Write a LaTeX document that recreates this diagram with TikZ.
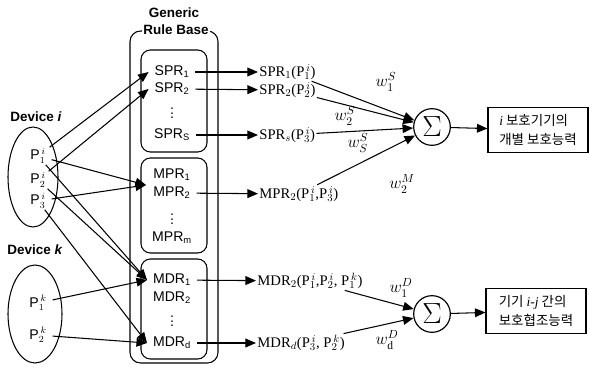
\documentclass[tikz,border=0pt]{standalone}
\usepackage{fontspec}
\setmainfont{Liberation Serif}
\setsansfont{Liberation Sans}
\newfontfamily\krfont{Noto Sans CJK KR}
\usepackage{tikz}
\usetikzlibrary{arrows.meta,positioning,shapes.geometric}

\begin{document}
\begin{tikzpicture}[x=0.03cm, y=-0.03cm,
	head/.style={font=\sffamily\bfseries\fontsize{11.5}{13}\selectfont, inner sep=1pt},
	prm/.style={font=\sffamily\fontsize{12}{14}\selectfont, inner xsep=5pt, inner ysep=1pt},
	res/.style={font=\fontsize{12.5}{15}\selectfont, anchor=west, inner sep=1pt},
	wgt/.style={font=\fontsize{14}{16}\selectfont, inner sep=0pt},
	dev/.style={ellipse, draw, line width=0.9pt},
	sumnode/.style={circle, draw, line width=1pt, minimum size=1.1cm, inner sep=0pt, font=\Huge},
	outbox/.style={draw, line width=0.9pt, minimum width=3cm, minimum height=1.35cm, align=left, inner sep=2pt, font=\krfont\fontsize{11.5}{16}\selectfont},
	arr/.style={->, >={Triangle[length=9pt,width=7.5pt]}, line width=0.9pt}]
		\useasboundingbox (0,0) rectangle (589,369);

		\node[head] (dev-i-t) at (36,117) {Device \textit{i}};
		\node[dev, minimum width=1.5cm, minimum height=3cm] (dev-i) at (33,177) {};
		\node[prm] (p1i) at (38,156) {P$_1^{\,i}$};
		\node[prm] (p2i) at (38,180) {P$_2^{\,i}$};
		\node[prm] (p3i) at (38,201) {P$_3^{\,i}$};

		\node[head] (dev-k-t) at (35,250) {Device \textit{k}};
		\node[dev, minimum width=1.62cm, minimum height=2.94cm] (dev-k) at (35,314) {};
		\node[prm] (p1k) at (38,303) {P$_1^{\,k}$};
		\node[prm] (p2k) at (38,335) {P$_2^{\,k}$};

		\draw[line width=0.9pt, rounded corners=9pt] (130,31) rectangle (218,363);
		\draw[line width=0.9pt, rounded corners=8pt] (141,50) rectangle (207,152);
		\draw[line width=0.9pt, rounded corners=8pt] (141,158) rectangle (207,253);
		\draw[line width=0.9pt, rounded corners=8pt] (141,259) rectangle (207,359);
		\node[head] (gen) at (174,13) {Generic};
		\node[head, fill=white] (rb) at (176,30) {Rule Base};

		\node[prm] (spr1) at (172,72) {SPR\textsubscript{1}};
		\node[prm] (spr2) at (172,89) {SPR\textsubscript{2}};
		\node[prm] (spr-d) at (172,110) {$\vdots$};
		\node[prm] (sprs) at (172,135) {SPR\textsubscript{S}};
		\node[prm] (mpr1) at (172,175) {MPR\textsubscript{1}};
		\node[prm] (mpr2) at (172,193) {MPR\textsubscript{2}};
		\node[prm] (mpr-d) at (172,216) {$\vdots$};
		\node[prm] (mprm) at (172,238) {MPR\textsubscript{m}};
		\node[prm] (mdr1) at (172,280) {MDR\textsubscript{1}};
		\node[prm] (mdr2) at (172,298) {MDR\textsubscript{2}};
		\node[prm] (mdr-d) at (172,318) {$\vdots$};
		\node[prm] (mdrd) at (172,343) {MDR\textsubscript{d}};
		\coordinate (mpr-in) at (146,185);

		\node[res] (r-spr1) at (258,72) {SPR$_1$(P$_1^{\,i}$)};
		\node[res] (r-spr2) at (258,90) {SPR$_2$(P$_2^{\,i}$)};
		\node[res] (r-sprs) at (258,135) {SPR$_s$(P$_3^{\,i}$)};
		\node[res] (r-mpr2) at (258,194) {MPR$_2$(P$_1^{\,i}$,P$_3^{\,i}$)};
		\node[res] (r-mdr2) at (256,281) {MDR$_2$(P$_1^{\,i}$,P$_2^{\,i}$, P$_1^{\,k}$)};
		\node[res] (r-mdrd) at (256,343) {MDR$_d$(P$_3^{\,i}$, P$_2^{\,k}$)};

		\node[sumnode] (sig1) at (432,127) {$\Sigma$};
		\node[sumnode] (sig2) at (432,314) {$\Sigma$};
		\node[outbox] (out1) at (538,130) {{\rmfamily\itshape i} 보호기기의\\개별 보호능력};
		\node[outbox] (out2) at (536,311) {기기 {\rmfamily\itshape i-j} 간의\\보호협조능력};

		\node[wgt] (w1s) at (386,82) {$w_1^S$};
		\node[wgt] (w2s) at (345,116) {$w_2^S$};
		\node[wgt] (wss) at (358,143) {$w_S^S$};
		\node[wgt] (w2m) at (402,184) {$w_2^M$};
		\node[wgt] (w1d) at (401,288) {$w_1^D$};
		\node[wgt] (wdd) at (387,340) {$w_\mathrm{d}^D$};

		\path[arr] (p1i) edge (spr1.west);
		\path[arr] (p2i) edge (spr2.west);
		\path[arr] (p1i) edge (mpr-in);
		\path[arr] (p3i) edge (mpr-in);
		\path[arr] (p1i) edge (mdr1.west);
		\path[arr] (p2i) edge (mdr1.west);
		\path[arr] (p1k) edge (mdr1.west);
		\path[arr] (p3i) edge (mdrd.west);
		\path[arr] (p2k) edge (mdrd.west);

		\path[arr] (spr1) edge (r-spr1);
		\path[arr] (spr2) edge (r-spr2);
		\path[arr] (sprs) edge (r-sprs);
		\path[arr] (mpr2) edge (r-mpr2);
		\path[arr] (mdr1) edge (r-mdr2);
		\path[arr] (mdrd) edge (r-mdrd);

		\path[arr] (r-spr1) edge (sig1);
		\path[arr] (r-spr2) edge (sig1);
		\path[arr] (r-sprs) edge (sig1);
		\path[arr] (r-mpr2) edge (sig1);
		\path[arr] (r-mdr2) edge (sig2);
		\path[arr] (r-mdrd) edge (sig2);
		\path[arr] (sig1) edge (out1);
		\path[arr] (sig2) edge (out2);
\end{tikzpicture}
\end{document}
